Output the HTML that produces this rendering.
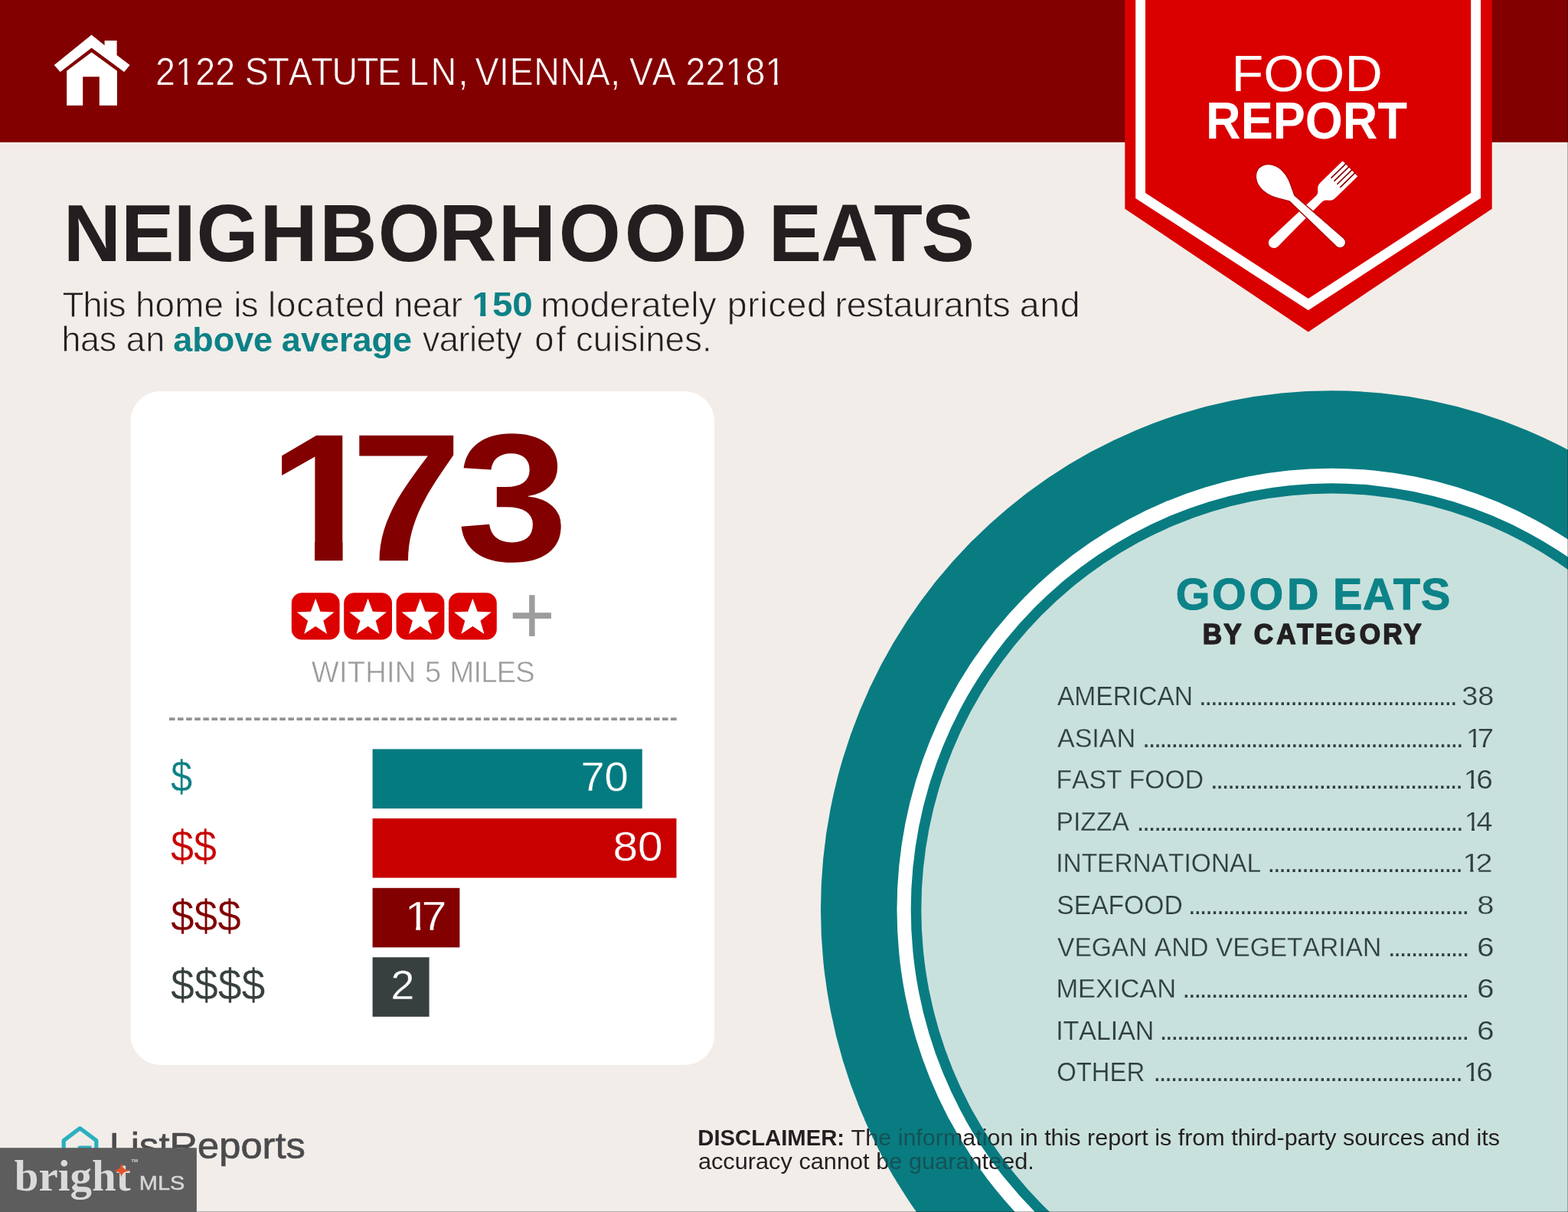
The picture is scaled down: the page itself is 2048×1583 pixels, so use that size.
<!DOCTYPE html>
<html lang="en"><head><meta charset="utf-8"><title>Food Report - Neighborhood Eats</title>
<style>
html,body{margin:0;padding:0;background:#f2ede9;}
body{width:2048px;height:1583px;overflow:hidden;}
svg{display:block;}
text{font-kerning:none;font-variant-ligatures:none;white-space:pre;}
</style></head><body>
<svg width="2048" height="1583" viewBox="0 0 2048 1583">
<rect width="2048" height="1583" fill="#f2ede9"/>
<ellipse cx="1739" cy="1188" rx="667" ry="677.7" fill="#097c82"/>
<ellipse cx="1739" cy="1188" rx="567.5" ry="576.3" fill="#ffffff"/>
<ellipse cx="1739" cy="1188" rx="549.3" ry="556.8" fill="#097c82"/>
<ellipse cx="1739" cy="1188" rx="535.7" ry="543.4" fill="#c9e1dd"/>
<rect x="0" y="0" width="2048" height="185.8" fill="#820000"/>
<g fill="#fff"><path d="M119.6 45.6 L136.6 59.2 L136.6 53 L152.6 53 L152.6 72 L169.6 85 L162.2 93.9 L119.6 62.6 L78.7 93.9 L70.7 85 Z"/><path d="M119.6 68.3 L152.9 92.5 L152.9 137.7 L129.8 137.7 L129.8 100.2 L108.2 100.2 L108.2 137.7 L87.2 137.7 L87.2 92.5 Z"/></g>
<clipPath id="c1"><path clip-rule="evenodd" d="M-200 -74.8H1219.9V29.9H-200ZM248.15 -4.42H257.54V14.96H248.15ZM262.59 -4.42H271.35V14.96H262.59ZM1017.46 -4.42H1026.85V14.96H1017.46ZM1031.90 -4.42H1040.66V14.96H1031.90ZM1073.16 -4.42H1082.55V14.96H1073.16ZM1087.60 -4.42H1096.36V14.96H1087.60Z"/></clipPath><text transform="translate(0.00 110.65) scale(0.9338 1)" x="217.41 245.33 273.24 301.15 328.88 342.53 374.38 403.43 435.28 464.33 498.93 527.98 561.23 572.24 602.41 640.85 654.71 664.46 698.35 712.83 746.71 783.35 819.98 853.87 867.72 880.26 912.22 945.48 958.94 986.79 1014.64 1042.49 1070.34" clip-path="url(#c1)" font-family='"Liberation Sans",sans-serif' font-size="49.86" font-weight="400" fill="#fff"  stroke="#820000" stroke-width="0.7" stroke-linejoin="round">2122 STATUTE LN, VIENNA, VA 22181</text>
<path d="M1469.3 0 L1948.7 0 L1948.7 272.8 L1708.8 433.4 L1469.3 272.8 Z" fill="#da0000"/>
<path d="M1489.6 -10 L1489.6 255.4 L1708.8 397.6 L1927.6 255.4 L1927.6 -10" fill="none" stroke="#fff" stroke-width="12.8" stroke-linejoin="miter"/>
<text transform="translate(1608.60 118.80) scale(1.0137 1)" font-family='"Liberation Sans",sans-serif' font-size="67.30" font-weight="400" fill="#fff" >FOOD</text>
<text transform="translate(1575.08 180.50) scale(0.9235 1)" font-family='"Liberation Sans",sans-serif' font-size="68.32" font-weight="700" fill="#fff" >REPORT</text>
<g fill="#fff">
<g transform="translate(1658.9 321.9) rotate(-44.2)"><path d="M7.2 -7.2 A7.2 7.2 0 0 0 7.2 7.2 L88 5.5 C93 5.6 94.5 7.5 97 10.5 C99.5 13.4 102.5 14.05 108 14.05 L145.8 14.05 L145.8 -14.05 L108 -14.05 C102.5 -14.05 99.5 -13.4 97 -10.5 C94.5 -7.5 93 -5.6 88 -5.5 Z"/><g stroke="#8a0000" stroke-width="1.7" fill="none"><path d="M119.3 -8.43H147"/><path d="M119.3 -2.81H147"/><path d="M119.3 2.81H147"/><path d="M119.3 8.43H147"/></g></g>
<g transform="translate(1644.2 219.4) rotate(42.5)"><path stroke="#b00000" stroke-width="1.4" d="M0 0 C0.5 -10 10 -18.3 24 -18.3 C38 -18.3 48 -10 58.8 -5.1 L144 -7.25 A7.25 7.25 0 0 1 144 7.25 L58.8 5.1 C48 10 38 18.3 24 18.3 C10 18.3 0.5 10 0 0 Z"/></g>
</g>
<text transform="translate(0.00 341.10) scale(0.9877 1)" x="83.72 160.10 229.64 259.59 343.71 422.53 499.90 580.37 658.87 738.88 825.85 912.00 988.21 1016.36 1085.46 1155.57 1218.47" font-family='"Liberation Sans",sans-serif' font-size="105.53" font-weight="700" fill="#231f20" >NEIGHBORHOOD EATS</text>
<text transform="translate(0.00 413.50) scale(1.0031 1)" x="81.22 108.00 132.28 141.32 164.14 176.47 201.98 227.50 265.64 291.02 304.19 313.78 336.60 348.92 359.93 386.18 409.86 436.11 449.65 475.90 501.28 512.46 537.26 562.07 586.88" font-family='"Liberation Sans",sans-serif' font-size="45.64" font-weight="400" fill="#231f20"  stroke="#f2ede9" stroke-width="0.8" stroke-linejoin="round">This home is located near</text>
<clipPath id="c2"><path clip-rule="evenodd" d="M-200 -66.7H182.9V26.7H-200ZM1.93 -5.24H10.10V13.34H1.93ZM16.76 -5.24H24.15V13.34H16.76Z"/></clipPath><text transform="translate(616.45 413.10) scale(1.0686 1)" clip-path="url(#c2)" font-family='"Liberation Sans",sans-serif' font-size="44.48" font-weight="700" fill="#0d8186" >150</text>
<text transform="translate(0.00 413.50) scale(1.0206 1)" x="691.73 729.68 755.00 780.31 805.62 820.75 846.06 858.67 883.98 894.05 916.87 930.60 956.61 972.45 983.22 1006.67 1032.69 1058.07 1068.56 1083.38 1108.39 1130.83 1143.13 1168.14 1193.15 1207.97 1232.97 1257.98 1270.28 1293.10 1304.80 1330.80 1356.80" font-family='"Liberation Sans",sans-serif' font-size="45.64" font-weight="400" fill="#231f20"  stroke="#f2ede9" stroke-width="0.8" stroke-linejoin="round">moderately priced restaurants and</text>
<text transform="translate(0.00 459.20) scale(0.9831 1)" x="81.87 106.94 132.02 154.84 167.62 193.63" font-family='"Liberation Sans",sans-serif' font-size="45.64" font-weight="400" fill="#231f20"  stroke="#f2ede9" stroke-width="0.8" stroke-linejoin="round">has an</text>
<text transform="translate(0.00 458.80) scale(1.0111 1)" x="223.89 248.57 275.68 302.80 327.48 352.21 363.83 388.60 413.38 438.15 455.49 480.27 507.47" font-family='"Liberation Sans",sans-serif' font-size="44.48" font-weight="700" fill="#0d8186" >above average</text>
<text transform="translate(0.00 459.20) scale(0.9957 1)" x="554.11 576.31 601.07 615.65 625.16 649.93 661.99 684.81 701.18 729.52 742.20 755.29 778.20 803.68 813.92 836.84 847.07 872.55 898.03 920.95" font-family='"Liberation Sans",sans-serif' font-size="45.64" font-weight="400" fill="#231f20"  stroke="#f2ede9" stroke-width="0.8" stroke-linejoin="round">variety of cuisines.</text>
<rect x="170.6" y="511" width="762.6" height="880" rx="39" ry="39" fill="#fff"/>
<clipPath id="c3"><path clip-rule="evenodd" d="M-200 -356.5H1254.1V142.6H-200ZM328.06 -24.95H372.92V71.29H328.06ZM406.07 -24.95H446.76V71.29H406.07Z"/></clipPath><text transform="translate(0.00 732.20) scale(1.1023 1)" x="317.73 415.54 541.15" clip-path="url(#c3)" font-family='"Liberation Sans",sans-serif' font-size="237.65" font-weight="700" fill="#820000" >173</text>
<rect x="380.8" y="774.3" width="62.8" height="61.2" rx="13.5" ry="13.5" fill="#dc0000"/>
<polygon points="412.20,781.80 418.44,798.81 436.55,799.49 422.30,810.68 427.25,828.11 412.20,818.02 397.15,828.11 402.10,810.68 387.85,799.49 405.96,798.81" fill="#fff"/>
<rect x="449.2" y="774.3" width="62.8" height="61.2" rx="13.5" ry="13.5" fill="#dc0000"/>
<polygon points="480.60,781.80 486.84,798.81 504.95,799.49 490.70,810.68 495.65,828.11 480.60,818.02 465.55,828.11 470.50,810.68 456.25,799.49 474.36,798.81" fill="#fff"/>
<rect x="517.6" y="774.3" width="62.8" height="61.2" rx="13.5" ry="13.5" fill="#dc0000"/>
<polygon points="549.00,781.80 555.24,798.81 573.35,799.49 559.10,810.68 564.05,828.11 549.00,818.02 533.95,828.11 538.90,810.68 524.65,799.49 542.76,798.81" fill="#fff"/>
<rect x="586.0" y="774.3" width="62.8" height="61.2" rx="13.5" ry="13.5" fill="#dc0000"/>
<polygon points="617.40,781.80 623.64,798.81 641.75,799.49 627.50,810.68 632.45,828.11 617.40,818.02 602.35,828.11 607.30,810.68 593.05,799.49 611.16,798.81" fill="#fff"/>
<text transform="translate(664.86 840.99) scale(1.0012 1.0597)" font-family='"Liberation Sans",sans-serif' font-size="103.0" fill="#9d9d9d">+</text>
<text transform="translate(0.00 890.75) scale(0.9810 1)" x="414.75 451.61 462.62 486.56 514.82 525.83 553.86 565.66 587.24 598.99 630.53 640.53 661.32 686.42" font-family='"Liberation Sans",sans-serif' font-size="38.81" font-weight="400" fill="#9c9c9c"  stroke="#fff" stroke-width="0.5" stroke-linejoin="round">WITHIN 5 MILES</text>
<line x1="220.9" y1="939.1" x2="883.8" y2="939.1" stroke="#939393" stroke-width="3.9" stroke-dasharray="7.6 3.505"/>
<rect x="486.6" y="978.4" width="352.2" height="77.6" fill="#047b80"/>
<text transform="translate(0.00 1033.40) scale(1.0562 1)" x="718.12 747.50" font-family='"Liberation Sans",sans-serif' font-size="53.20" font-weight="400" fill="#fff"  stroke="#047b80" stroke-width="0.4" stroke-linejoin="round">70</text>
<text transform="translate(223.11 1034.25) scale(0.8731 1)" font-family='"Liberation Sans",sans-serif' font-size="58.00" font-weight="400" fill="#0d8186"  stroke="#fff" stroke-width="0.3" stroke-linejoin="round">$</text>
<rect x="486.6" y="1068.9" width="396.9" height="77.6" fill="#c80000"/>
<text transform="translate(0.00 1124.40) scale(1.1033 1)" x="725.56 755.02" font-family='"Liberation Sans",sans-serif' font-size="53.20" font-weight="400" fill="#fff"  stroke="#c80000" stroke-width="0.4" stroke-linejoin="round">80</text>
<text transform="translate(223.07 1125.25) scale(0.9293 1)" font-family='"Liberation Sans",sans-serif' font-size="58.00" font-weight="400" fill="#c80000"  stroke="#fff" stroke-width="0.3" stroke-linejoin="round">$$</text>
<rect x="486.6" y="1159.8" width="113.8" height="77.6" fill="#820000"/>
<clipPath id="c4"><path clip-rule="evenodd" d="M-200 -79.8H659.8V31.9H-200ZM483.36 -4.67H493.45V15.96H483.36ZM498.69 -4.67H508.11V15.96H498.69Z"/></clipPath><text transform="translate(0.00 1215.10) scale(1.1011 1)" x="480.34 500.22" clip-path="url(#c4)" font-family='"Liberation Sans",sans-serif' font-size="53.20" font-weight="400" fill="#fff"  stroke="#820000" stroke-width="0.4" stroke-linejoin="round">17</text>
<text transform="translate(223.06 1215.95) scale(0.9474 1)" font-family='"Liberation Sans",sans-serif' font-size="58.00" font-weight="400" fill="#820000"  stroke="#fff" stroke-width="0.3" stroke-linejoin="round">$$$</text>
<rect x="486.6" y="1250.3" width="74.0" height="77.6" fill="#37403f"/>
<text transform="translate(0.00 1305.30) scale(1.0563 1)" x="482.98" font-family='"Liberation Sans",sans-serif' font-size="53.20" font-weight="400" fill="#fff"  stroke="#37403f" stroke-width="0.4" stroke-linejoin="round">2</text>
<text transform="translate(223.05 1306.15) scale(0.9564 1)" font-family='"Liberation Sans",sans-serif' font-size="58.00" font-weight="400" fill="#37403f"  stroke="#fff" stroke-width="0.3" stroke-linejoin="round">$$$$</text>
<text transform="translate(0.00 795.70) scale(1.0036 1)" x="1530.27 1577.37 1625.74 1675.07 1716.43 1734.75 1773.67 1813.26 1849.43" font-family='"Liberation Sans",sans-serif' font-size="57.27" font-weight="700" fill="#0c8388"  stroke="#0c8388" stroke-width="1.0" stroke-linejoin="round">GOOD EATS</text>
<text transform="translate(0.00 840.50) scale(0.9578 1)" x="1639.92 1668.56 1692.99 1709.86 1740.73 1768.73 1793.57 1820.41 1853.98 1885.76 1914.07" font-family='"Liberation Sans",sans-serif' font-size="36.63" font-weight="700" fill="#231f20"  stroke="#231f20" stroke-width="1.6" stroke-linejoin="round">BY CATEGORY</text>
<text transform="translate(1380.91 921.02) scale(0.9607 1)" font-family='"Liberation Sans",sans-serif' font-size="34.96" font-weight="400" fill="#2f3e40"  stroke="#c9e1dd" stroke-width="0.25" stroke-linejoin="round">AMERICAN</text>
<text transform="translate(1909.23 921.02) scale(1.0837 1)" font-family='"Liberation Sans",sans-serif' font-size="34.96" font-weight="400" fill="#2f3e40"  stroke="#c9e1dd" stroke-width="0.25" stroke-linejoin="round">38</text>
<text x="1566.07" y="920.90" font-family='"Liberation Sans",sans-serif' font-size="34.59" fill="#2f3e40" style="letter-spacing:-2.156px">.............................................</text>
<text transform="translate(1380.91 975.62) scale(0.9751 1)" font-family='"Liberation Sans",sans-serif' font-size="34.96" font-weight="400" fill="#2f3e40"  stroke="#c9e1dd" stroke-width="0.25" stroke-linejoin="round">ASIAN</text>
<clipPath id="c5"><path clip-rule="evenodd" d="M-200 -52.4H1868.9V21.0H-200ZM1752.28 -3.31H1758.82V10.49H1752.28ZM1762.46 -3.31H1768.55V10.49H1762.46Z"/></clipPath><text transform="translate(0.00 975.62) scale(1.0939 1)" x="1750.30 1764.03" clip-path="url(#c5)" font-family='"Liberation Sans",sans-serif' font-size="34.96" font-weight="400" fill="#2f3e40"  stroke="#c9e1dd" stroke-width="0.25" stroke-linejoin="round">17</text>
<text x="1492.27" y="975.50" font-family='"Liberation Sans",sans-serif' font-size="34.59" fill="#2f3e40" style="letter-spacing:-2.156px">........................................................</text>
<text transform="translate(1379.52 1030.22) scale(0.9619 1)" font-family='"Liberation Sans",sans-serif' font-size="34.96" font-weight="400" fill="#2f3e40"  stroke="#c9e1dd" stroke-width="0.25" stroke-linejoin="round">FAST FOOD</text>
<clipPath id="c6"><path clip-rule="evenodd" d="M-200 -52.4H1839.4V21.0H-200ZM1721.65 -3.31H1728.19V10.49H1721.65ZM1731.82 -3.31H1737.91V10.49H1731.82Z"/></clipPath><text transform="translate(0.00 1030.22) scale(1.1117 1)" x="1719.67 1734.50" clip-path="url(#c6)" font-family='"Liberation Sans",sans-serif' font-size="34.96" font-weight="400" fill="#2f3e40"  stroke="#c9e1dd" stroke-width="0.25" stroke-linejoin="round">16</text>
<text x="1580.93" y="1030.10" font-family='"Liberation Sans",sans-serif' font-size="34.59" fill="#2f3e40" style="letter-spacing:-2.156px">............................................</text>
<text transform="translate(1379.51 1084.83) scale(0.9640 1)" font-family='"Liberation Sans",sans-serif' font-size="34.96" font-weight="400" fill="#2f3e40"  stroke="#c9e1dd" stroke-width="0.25" stroke-linejoin="round">PIZZA</text>
<clipPath id="c7"><path clip-rule="evenodd" d="M-200 -52.4H1892.0V21.0H-200ZM1774.63 -3.31H1781.16V10.49H1774.63ZM1784.81 -3.31H1790.90V10.49H1784.81Z"/></clipPath><text transform="translate(0.00 1084.83) scale(1.0791 1)" x="1772.65 1787.13" clip-path="url(#c7)" font-family='"Liberation Sans",sans-serif' font-size="34.96" font-weight="400" fill="#2f3e40"  stroke="#c9e1dd" stroke-width="0.25" stroke-linejoin="round">14</text>
<text x="1484.81" y="1084.70" font-family='"Liberation Sans",sans-serif' font-size="34.59" fill="#2f3e40" style="letter-spacing:-2.156px">.........................................................</text>
<text transform="translate(1379.18 1139.42) scale(0.9580 1)" font-family='"Liberation Sans",sans-serif' font-size="34.96" font-weight="400" fill="#2f3e40"  stroke="#c9e1dd" stroke-width="0.25" stroke-linejoin="round">INTERNATIONAL</text>
<clipPath id="c8"><path clip-rule="evenodd" d="M-200 -52.4H1769.3V21.0H-200ZM1651.96 -3.31H1658.51V10.49H1651.96ZM1662.12 -3.31H1668.22V10.49H1662.12Z"/></clipPath><text transform="translate(0.00 1139.42) scale(1.1578 1)" x="1649.98 1664.38" clip-path="url(#c8)" font-family='"Liberation Sans",sans-serif' font-size="34.96" font-weight="400" fill="#2f3e40"  stroke="#c9e1dd" stroke-width="0.25" stroke-linejoin="round">12</text>
<text x="1655.48" y="1139.30" font-family='"Liberation Sans",sans-serif' font-size="34.59" fill="#2f3e40" style="letter-spacing:-2.156px">..................................</text>
<text transform="translate(1380.25 1194.03) scale(0.9629 1)" font-family='"Liberation Sans",sans-serif' font-size="34.96" font-weight="400" fill="#2f3e40"  stroke="#c9e1dd" stroke-width="0.25" stroke-linejoin="round">SEAFOOD</text>
<text transform="translate(1929.24 1194.03) scale(1.1431 1)" font-family='"Liberation Sans",sans-serif' font-size="34.96" font-weight="400" fill="#2f3e40"  stroke="#c9e1dd" stroke-width="0.25" stroke-linejoin="round">8</text>
<text x="1551.95" y="1193.90" font-family='"Liberation Sans",sans-serif' font-size="34.59" fill="#2f3e40" style="letter-spacing:-2.156px">.................................................</text>
<text transform="translate(1381.03 1248.62) scale(0.9598 1)" font-family='"Liberation Sans",sans-serif' font-size="34.96" font-weight="400" fill="#2f3e40"  stroke="#c9e1dd" stroke-width="0.25" stroke-linejoin="round">VEGAN AND VEGETARIAN</text>
<text transform="translate(1928.91 1248.62) scale(1.1624 1)" font-family='"Liberation Sans",sans-serif' font-size="34.96" font-weight="400" fill="#2f3e40"  stroke="#c9e1dd" stroke-width="0.25" stroke-linejoin="round">6</text>
<text x="1812.88" y="1248.50" font-family='"Liberation Sans",sans-serif' font-size="34.59" fill="#2f3e40" style="letter-spacing:-2.156px">..............</text>
<text transform="translate(1379.46 1303.22) scale(0.9831 1)" font-family='"Liberation Sans",sans-serif' font-size="34.96" font-weight="400" fill="#2f3e40"  stroke="#c9e1dd" stroke-width="0.25" stroke-linejoin="round">MEXICAN</text>
<text transform="translate(1928.91 1303.22) scale(1.1624 1)" font-family='"Liberation Sans",sans-serif' font-size="34.96" font-weight="400" fill="#2f3e40"  stroke="#c9e1dd" stroke-width="0.25" stroke-linejoin="round">6</text>
<text x="1544.50" y="1303.10" font-family='"Liberation Sans",sans-serif' font-size="34.59" fill="#2f3e40" style="letter-spacing:-2.156px">..................................................</text>
<text transform="translate(1379.14 1357.83) scale(0.9709 1)" font-family='"Liberation Sans",sans-serif' font-size="34.96" font-weight="400" fill="#2f3e40"  stroke="#c9e1dd" stroke-width="0.25" stroke-linejoin="round">ITALIAN</text>
<text transform="translate(1928.91 1357.83) scale(1.1624 1)" font-family='"Liberation Sans",sans-serif' font-size="34.96" font-weight="400" fill="#2f3e40"  stroke="#c9e1dd" stroke-width="0.25" stroke-linejoin="round">6</text>
<text x="1514.68" y="1357.70" font-family='"Liberation Sans",sans-serif' font-size="34.59" fill="#2f3e40" style="letter-spacing:-2.156px">......................................................</text>
<text transform="translate(1380.22 1412.42) scale(0.9402 1)" font-family='"Liberation Sans",sans-serif' font-size="34.96" font-weight="400" fill="#2f3e40"  stroke="#c9e1dd" stroke-width="0.25" stroke-linejoin="round">OTHER</text>
<clipPath id="c9"><path clip-rule="evenodd" d="M-200 -52.4H1839.4V21.0H-200ZM1721.65 -3.31H1728.19V10.49H1721.65ZM1731.82 -3.31H1737.91V10.49H1731.82Z"/></clipPath><text transform="translate(0.00 1412.42) scale(1.1117 1)" x="1719.67 1734.50" clip-path="url(#c9)" font-family='"Liberation Sans",sans-serif' font-size="34.96" font-weight="400" fill="#2f3e40"  stroke="#c9e1dd" stroke-width="0.25" stroke-linejoin="round">16</text>
<text x="1506.38" y="1412.30" font-family='"Liberation Sans",sans-serif' font-size="34.59" fill="#2f3e40" style="letter-spacing:-2.156px">......................................................</text>
<g>
<text transform="translate(911.24 1495.90) scale(1.0176 1)" font-family='"Liberation Sans",sans-serif' font-size="28.78" font-weight="700" fill="#231f20" >DISCLAIMER:</text>
<text transform="translate(1111.61 1495.90) scale(1.0602 1)" font-family='"Liberation Sans",sans-serif' font-size="28.78" font-weight="400" fill="#231f20" >The information in this report is from third-party sources and its</text>
<text transform="translate(911.89 1527.00) scale(1.0679 1)" font-family='"Liberation Sans",sans-serif' font-size="28.78" font-weight="400" fill="#231f20" >accuracy cannot be guaranteed.</text>
</g>
<clipPath id="dc"><rect x="1100" y="1462" width="320" height="76"/></clipPath>
<path clip-path="url(#dc)" fill-rule="evenodd" fill="#097c82" opacity="0.55" d="M1072 1188A667 677.7 0 1 0 2406 1188A667 677.7 0 1 0 1072 1188ZM1171.5 1188A567.5 576.3 0 1 0 2306.5 1188A567.5 576.3 0 1 0 1171.5 1188ZM1189.7 1188A549.3 556.8 0 1 0 2288.3 1188A549.3 556.8 0 1 0 1189.7 1188ZM1203.3 1188A535.7 543.4 0 1 0 2274.7 1188A535.7 543.4 0 1 0 1203.3 1188Z"/>
<path d="M104.4 1473.6 L125.8 1489.6 L125.8 1522 L83.2 1522 L83.2 1489.6 Z" fill="none" stroke="#2ab0c0" stroke-width="5.2" stroke-linejoin="round"/>
<path d="M104 1499 L117 1499 L117 1512" fill="none" stroke="#2ab0c0" stroke-width="5" stroke-linecap="round"/>
<text transform="translate(142.69 1512.65) scale(1.0661 1)" font-family='"Liberation Sans",sans-serif' font-size="47.53" font-weight="400" fill="#4b4b4d"  stroke="#4b4b4d" stroke-width="0.7" stroke-linejoin="round">ListReports</text>
<rect x="0" y="1499.2" width="256.9" height="84" fill="#5d5d5d"/>
<text transform="translate(18.78 1554.60) scale(0.9825 1)" font-family='"Liberation Serif",serif' font-size="58.00" font-weight="700" fill="#dadada" >bright</text>
<path d="M158.6 1518.6 C159.6 1525.5 161.5 1527.6 170.8 1528.9 C161.5 1530.2 159.6 1532 158.6 1537.4 C157.6 1532 155.7 1530.2 148.6 1528.9 C155.7 1527.6 157.6 1525.5 158.6 1518.6 Z" fill="#e2532b"/>
<text transform="translate(171.13 1518.20) scale(1.0075 1)" font-family='"Liberation Sans",sans-serif' font-size="6.10" font-weight="700" fill="#dadada" >TM</text>
<text transform="translate(181.78 1554.15) scale(1.1185 1)" font-family='"Liberation Sans",sans-serif' font-size="25.87" font-weight="400" fill="#d6d6d6"  stroke="#d6d6d6" stroke-width="0.5" stroke-linejoin="round">MLS</text>
<rect x="2047" y="0" width="1" height="1583" fill="#000" opacity="0.28"/>
<rect x="257" y="1582" width="1791" height="1" fill="#000" opacity="0.28"/>
</svg></body></html>
